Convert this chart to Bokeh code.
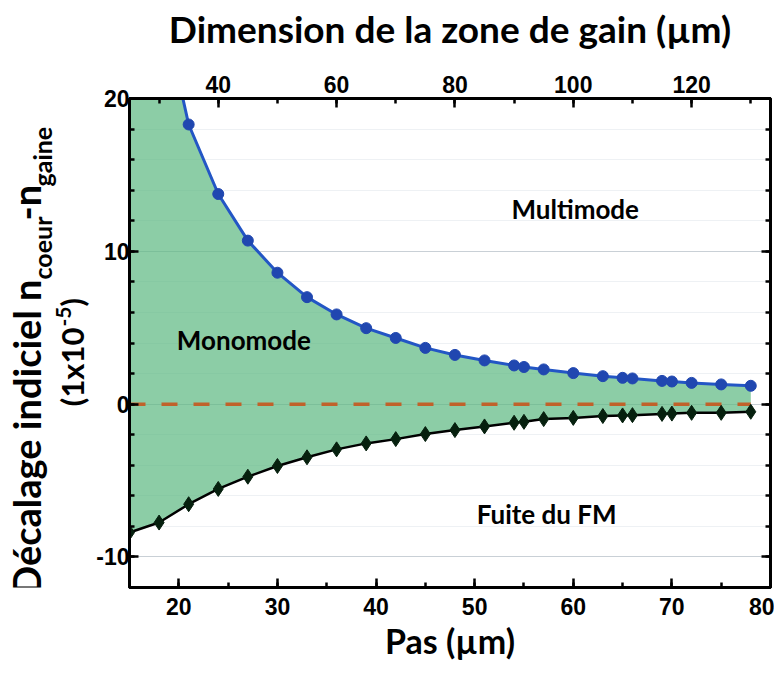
import math
from bokeh.plotting import figure
from bokeh.layouts import row
from bokeh.models import (Range1d, LinearAxis, SingleIntervalTicker, ColumnDataSource,
                          PrintfTickFormatter, Label)
from bokeh.core.properties import value
from bokeh.embed import file_html
from bokeh.resources import INLINE

# ---- data ----
pas = [15, 18, 21, 24, 27, 30, 33, 36, 39, 42, 45, 48, 51, 54, 55, 57,
       60, 63, 65, 66, 69, 70, 72, 75, 78]
# upper limit (multimode cut-off); first two values are above the plotted range (estimated)
seuil_multimode = [40.0, 27.0, 18.3, 13.75, 10.7, 8.6, 7.0, 5.87, 4.97, 4.33, 3.68, 3.22,
                   2.86, 2.53, 2.43, 2.27, 2.03, 1.83, 1.72, 1.68, 1.52, 1.48, 1.39, 1.29, 1.2]
# lower limit (leakage of the fundamental mode)
seuil_fuite = [-8.4, -7.75, -6.55, -5.55, -4.75, -4.05, -3.48, -2.96, -2.57, -2.29, -1.96,
               -1.70, -1.46, -1.22, -1.16, -0.98, -0.90, -0.78, -0.74, -0.72, -0.64, -0.62,
               -0.57, -0.57, -0.5]
zero_level = [0, 0]

x_limits = [15, 80]
y_limits = [-12, 20]
y_ticks = [-10, 0, 10, 20]
gain_per_pas = 5.0 / 3.0   # top axis: dimension de la zone de gain = 5/3 * pas

region_labels = ["Multimode", "Monomode", "Fuite du FM"]
region_x = [60.2, 26.6, 57.3]
region_y = [12.8, 4.2, -7.2]

# y-axis title pieces (normal, subscript, normal, subscript / normal, superscript, normal)
ytitle_texts = ["Décalage indiciel n", "coeur", "-n", "gaine", "(1x10", "-5", ")"]

FONT = "Lato"
TICKFONT = "Liberation Sans"

W, H = 774, 665
L = 93  # width of the side panel holding the rotated y title
TOP, BOTTOM = 98, 78

p = figure(width=W - L, height=H, output_backend="svg", toolbar_location=None,
           x_range=Range1d(*x_limits), y_range=Range1d(*y_limits),
           x_axis_location=None, y_axis_location=None,
           min_border_left=128 - L, min_border_right=4,
           min_border_top=TOP, min_border_bottom=BOTTOM)
p.background_fill_color = "white"
p.border_fill_color = "white"
p.outline_line_color = "black"
p.outline_line_width = 3

p.extra_x_ranges = {"top": Range1d(x_limits[0] * gain_per_pas, x_limits[1] * gain_per_pas)}


def style(ax, show_labels=True):
    ax.axis_line_width = 3
    ax.axis_line_color = "black"
    ax.major_tick_in = 9
    ax.major_tick_out = 0
    ax.minor_tick_in = 5
    ax.minor_tick_out = 0
    ax.major_tick_line_width = 2.5
    ax.minor_tick_line_width = 2.5
    ax.major_tick_line_color = "black"
    ax.minor_tick_line_color = "black"
    ax.major_label_text_font = TICKFONT
    ax.major_label_text_font_style = "bold"
    ax.major_label_text_font_size = "23px"
    ax.major_label_text_color = "black" if show_labels else None
    ax.axis_label_text_font = FONT
    ax.axis_label_text_font_style = "bold"
    ax.axis_label_text_font_size = "34px"
    ax.axis_label_text_color = "black"


xb = LinearAxis(ticker=SingleIntervalTicker(interval=10, num_minor_ticks=2),
                axis_label="Pas (µm)")
style(xb)
xb.major_label_standoff = 10
xb.axis_label_standoff = 2
p.add_layout(xb, "below")

xt = LinearAxis(x_range_name="top", ticker=SingleIntervalTicker(interval=20, num_minor_ticks=2),
                axis_label="Dimension de la zone de gain (µm)")
style(xt)
xt.axis_label_text_font_size = "37px"
xt.major_label_standoff = 6
xt.axis_label_standoff = 22
p.add_layout(xt, "above")

yl = LinearAxis(ticker=SingleIntervalTicker(interval=10, num_minor_ticks=5),
                formatter=PrintfTickFormatter(format="%d"))
style(yl)
yl.major_label_standoff = 0
p.add_layout(yl, "left")

yr = LinearAxis(ticker=SingleIntervalTicker(interval=10, num_minor_ticks=5))
style(yr, show_labels=False)
yr.major_label_overrides = {t: "" for t in y_ticks}
yr.major_label_text_font_size = "1px"
yr.major_label_standoff = 0
p.add_layout(yr, "right")

# grid
p.xgrid.visible = False
p.ygrid.ticker = SingleIntervalTicker(interval=10, num_minor_ticks=5)
p.ygrid.grid_line_color = "#c9d0d6"
p.ygrid.grid_line_width = 1
p.ygrid.minor_grid_line_color = "#eef1f4"
p.ygrid.minor_grid_line_width = 1

src = ColumnDataSource(dict(x=pas, up=seuil_multimode, low=seuil_fuite))

p.varea(x="x", y1="low", y2="up", source=src, fill_color="#5bb880", fill_alpha=0.7)
p.line([pas[0], pas[-1]], zero_level, line_color="#c0622a", line_width=3.5, line_dash="16 16")

p.line("x", "up", source=src, line_color="#2356c5", line_width=3)
p.scatter("x", "up", source=src, marker="circle", size=11, fill_color="#2047b0",
          line_color="#2047b0")
p.line("x", "low", source=src, line_color="black", line_width=2.5)
p.scatter("x", "low", source=src, marker="diamond", size=15, fill_color="#06200e",
          line_color="#06200e")

p.text(x=region_x, y=region_y, text=region_labels, text_font=value(FONT),
       text_font_style="bold", text_font_size="26px", text_align="center",
       text_baseline="middle", text_color="black")

# ---- side panel with the rotated, sub/superscripted y-axis title ----
# its frame is aligned with the main frame by the row layout, so the y range is
# set to canvas pixels measured from the bottom of the canvas
tp = figure(width=L, height=H, output_backend="svg", toolbar_location=None,
            x_range=Range1d(0, L), y_range=Range1d(BOTTOM, H - TOP),
            min_border_left=0, min_border_right=0,
            min_border_top=TOP, min_border_bottom=BOTTOM,
            x_axis_location=None, y_axis_location=None)
tp.outline_line_color = None
tp.background_fill_color = "white"
tp.border_fill_color = "white"
tp.grid.visible = False

# layout of the pieces (pixel anchor x, pixel y from top, size, alignment)
piece_x = [25, 41, 25, 41, 71, 63, 71]
piece_top = [279, 279, 220, 186, 327, 326, 306]
piece_size = ["38px", "25px", "38px", "25px", "31px", "21px", "31px"]
piece_align = ["right", "left", "left", "left", "right", "left", "left"]
for t, px, pt, sz, al in zip(ytitle_texts, piece_x, piece_top, piece_size, piece_align):
    tp.add_layout(Label(x=px, y=H - pt, x_units="data", y_units="data", text=t,
                        angle=math.pi / 2, text_font=FONT, text_font_style="bold",
                        text_font_size=sz, text_align=al, text_baseline="alphabetic",
                        text_color="black"))

layout = row(tp, p)
open("out.html", "w").write(file_html(layout, INLINE))
